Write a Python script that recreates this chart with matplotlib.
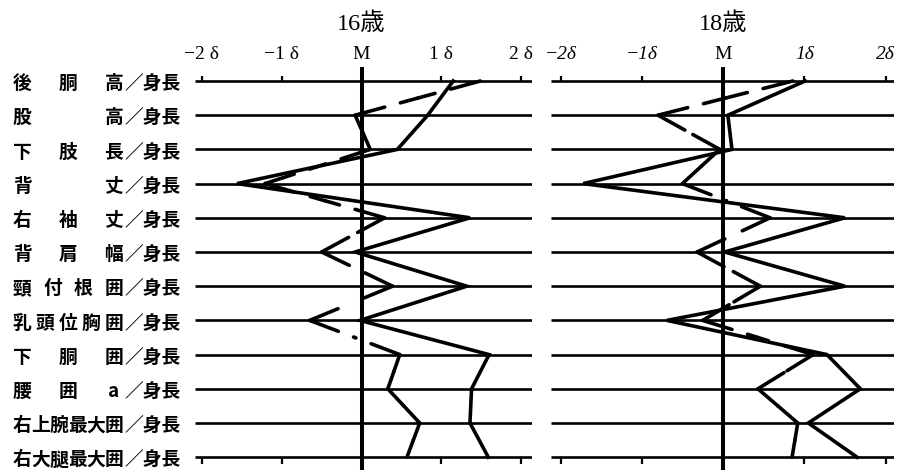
#!/usr/bin/env python3
"""Body proportion profiles (ratio to height) for ages 16 and 18, in SD units."""
import matplotlib
matplotlib.use("Agg")
import matplotlib.pyplot as plt
from matplotlib.transforms import blended_transform_factory

# ---------------------------------------------------------------------------
# Data
# ---------------------------------------------------------------------------

# each label: list of the words placed across the name column, then "／身長"
ROW_WORDS = [
    ["後", "胴", "高"],
    ["股", "高"],
    ["下", "肢", "長"],
    ["背", "丈"],
    ["右", "袖", "丈"],
    ["背", "肩", "幅"],
    ["頸", "付", "根", "囲"],
    ["乳", "頭", "位", "胸", "囲"],
    ["下", "胴", "囲"],
    ["腰", "囲", "a"],
    ["右", "上", "腕", "最", "大", "囲"],
    ["右", "大", "腿", "最", "大", "囲"],
]
ROW_SUFFIX = "／身長"

TICK_POS = [-2, -1, 0, 1, 2]
TICK_LABELS_16 = ["−2 δ", "−1 δ", "M", "1 δ", "2 δ"]
TICK_LABELS_18 = ["−2δ", "−1δ", "M", "1δ", "2δ"]

# deviation from the mean, in SD units
AGE16_SOLID = [1.15, 0.83, 0.45, -1.56, 1.36, -0.08, 1.32, -0.02, 1.60, 1.38, 1.36, 1.59]
AGE16_DASHED = [1.49, -0.08, 0.11, -1.21, 0.29, -0.50, 0.39, -0.65, 0.48, 0.33, 0.73, 0.57]
AGE18_SOLID = [1.01, 0.06, 0.11, -1.72, 1.50, 0.02, 1.50, -0.69, 1.28, 1.69, 1.05, 1.65]
AGE18_DASHED = [0.86, -0.80, -0.04, -0.50, 0.58, -0.32, 0.46, -0.25, 1.11, 0.43, 0.92, 0.85]

# ---------------------------------------------------------------------------
# Layout (figure pixels, 902 x 472)
# ---------------------------------------------------------------------------

W, H = 902, 472
ROW_TOP_PX, ROW_STEP_PX = 81.0, 34.2
Y_TOP, Y_BOT = -0.41, 11.38          # vertical M line extent, in rows

SERIF = ["Liberation Serif", "DejaVu Serif"]
TITLE_FONT = ["Liberation Serif", "Noto Sans CJK JP"]
CJK = ["Noto Sans CJK JP", "DejaVu Sans"]

LW_ROW = 1.9
LW_DATA = 2.6
LW_M = 2.9


def make_axes(fig, left_px, right_px, m_px, delta_px):
    top_px = ROW_TOP_PX + Y_TOP * ROW_STEP_PX
    bot_px = ROW_TOP_PX + Y_BOT * ROW_STEP_PX
    ax = fig.add_axes([left_px / W, (H - bot_px) / H,
                       (right_px - left_px) / W, (bot_px - top_px) / H])
    ax.set_xlim((left_px - m_px) / delta_px, (right_px - m_px) / delta_px)
    ax.set_ylim(Y_BOT, Y_TOP)
    ax.axis("off")
    return ax


def draw_dashed(ax, xs, ys):
    # each segment is drawn from both ends toward its middle so that
    # every vertex gets a solid corner
    for x0, y0, x1, y1 in zip(xs[:-1], ys[:-1], xs[1:], ys[1:]):
        xm, ym = (x0 + x1) / 2, (y0 + y1) / 2
        for xa, ya in ((x0, y0), (x1, y1)):
            ax.plot([xa, xm], [ya, ym], color="black", lw=LW_DATA,
                    linestyle=(0, (8.5, 4.5)), dash_capstyle="round",
                    clip_on=False, zorder=4)


def draw_panel(ax, title, tick_labels, italic, solid, dashed):
    rows = list(range(len(ROW_WORDS)))
    xmin, xmax = ax.get_xlim()

    ax.hlines(rows, xmin, xmax, color="black", lw=LW_ROW, zorder=1)
    ax.vlines(0, Y_TOP, Y_BOT, color="black", lw=LW_M, zorder=2, clip_on=False)

    # small ticks above the first row and below the last one
    side_ticks = [t for t in TICK_POS if t != 0]
    ax.vlines(side_ticks, 0, -0.16, color="black", lw=1.6, clip_on=False)
    ax.vlines(side_ticks, rows[-1], rows[-1] + 0.2, color="black", lw=1.6,
              clip_on=False)

    for pos, lab in zip(TICK_POS, tick_labels):
        style = "italic" if (italic and lab != "M") else "normal"
        ax.text(pos, -0.78, lab, ha="center", va="center", fontsize=14,
                family=SERIF, style=style)

    ax.text(0, -1.68, title, ha="center", va="center", fontsize=17.5,
            family=TITLE_FONT)

    ax.plot(solid, rows, color="black", lw=LW_DATA, solid_joinstyle="miter",
            clip_on=False, zorder=3)
    draw_dashed(ax, dashed, rows)


def draw_row_labels(fig, ax):
    trans = blended_transform_factory(fig.transFigure, ax.transData)
    first_px, last_px, suffix_px = 22.0, 114.0, 124.0
    for i, words in enumerate(ROW_WORDS):
        n = len(words)
        for j, w in enumerate(words):
            x = first_px + (last_px - first_px) * j / (n - 1)
            fig.text(x / W, i + 0.08, w, transform=trans, ha="center",
                     va="center", fontsize=13.5, family=CJK, fontweight="bold")
        fig.text(suffix_px / W, i + 0.08, ROW_SUFFIX, transform=trans,
                 ha="left", va="center", fontsize=13.5, family=CJK,
                 fontweight="bold")


def main():
    fig = plt.figure(figsize=(W / 100, H / 100), dpi=100)
    fig.patch.set_facecolor("white")

    ax16 = make_axes(fig, 195, 532, 361.5, 79.75)
    ax18 = make_axes(fig, 551, 894, 723.0, 81.25)

    draw_panel(ax16, "16歳", TICK_LABELS_16, False, AGE16_SOLID, AGE16_DASHED)
    draw_panel(ax18, "18歳", TICK_LABELS_18, True, AGE18_SOLID, AGE18_DASHED)
    draw_row_labels(fig, ax16)

    fig.savefig("out.png", dpi=100, facecolor="white")
    plt.close(fig)


if __name__ == "__main__":
    main()
